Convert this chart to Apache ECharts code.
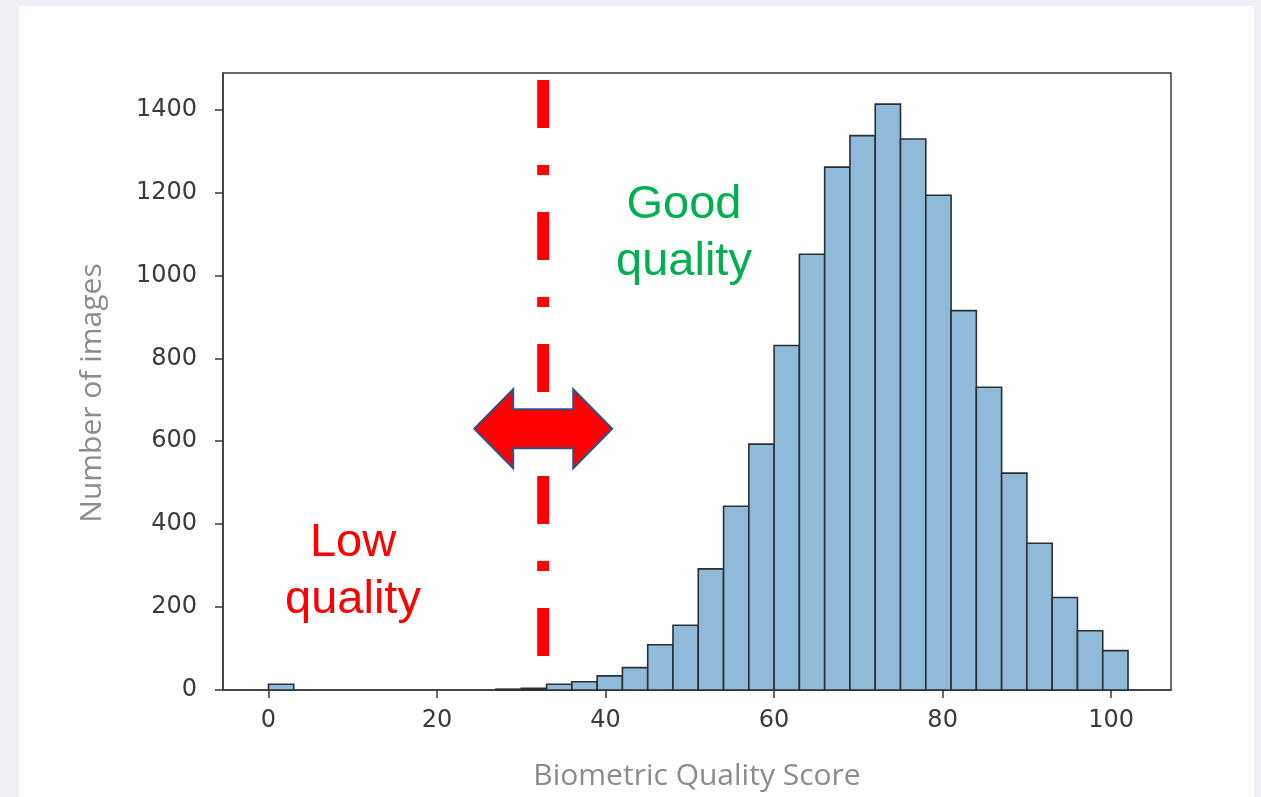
<!DOCTYPE html>
<html>
<head>
<meta charset="utf-8">
<script src="https://cdn.jsdelivr.net/npm/echarts@6/dist/echarts.min.js"></script>
<style>
  html, body { margin: 0; padding: 0; background: #eef0f5; }
  #chart { width: 1261px; height: 797px; }
</style>
</head>
<body>
<div id="chart"></div>
<script>
// ---- data ----
const binEdges = [0, 3, 6, 9, 12, 15, 18, 21, 24, 27, 30, 33, 36, 39, 42, 45, 48, 51, 54, 57,
                  60, 63, 66, 69, 72, 75, 78, 81, 84, 87, 90, 93, 96, 99, 102];
const counts = [14, 0, 0, 0, 0, 0, 0, 0, 0, 2, 4, 14, 20, 34, 54, 109, 156, 292, 443, 593,
                831, 1051, 1261, 1337, 1413, 1329, 1193, 915, 730, 523, 354, 223, 143, 95];
const xTicks = [0, 20, 40, 60, 80, 100];
const yTicks = [0, 200, 400, 600, 800, 1000, 1200, 1400];
const xTitle = 'Biometric Quality Score';
const yTitle = 'Number of images';
const threshold = 32.6;          // position of the dash-dot separator
const thresholdSpan = [1471, 82]; // vertical extent of the separator (counts)
const arrowLevel = 630;           // height of the double arrow (counts)
const goodLabel = ['Good', 'quality'];
const lowLabel = ['Low', 'quality'];

const histData = counts.map((c, i) => [binEdges[i], binEdges[i + 1], c]).filter(d => d[2] > 0);

const chart = echarts.init(document.getElementById('chart'), null, { renderer: 'canvas' });

const tickFont = { fontFamily: 'DejaVu Sans', fontSize: 24, color: '#3a3a3a', formatter: v => String(v) };
const titleFont = { fontFamily: 'Open Sans', fontSize: 30, color: '#8c8c8c' };

const option = {
  animation: false,
  backgroundColor: 'transparent',
  grid: {
    left: 223, top: 73, right: 90, bottom: 107,
    show: true, backgroundColor: '#ffffff', borderColor: '#3a3a3a', borderWidth: 1.5
  },
  xAxis: {
    type: 'value', min: -5.4, max: 107.1,
    name: xTitle, nameLocation: 'middle', nameGap: 71,
    nameTextStyle: titleFont,
    axisLine: { show: true, onZero: false, lineStyle: { color: '#3a3a3a', width: 1.5 } },
    axisTick: { show: true, inside: false, length: 8, customValues: xTicks, lineStyle: { color: '#3a3a3a', width: 1.5 } },
    axisLabel: Object.assign({ customValues: xTicks, margin: 19 }, tickFont),
    splitLine: { show: false }
  },
  yAxis: {
    type: 'value', min: 0, max: 1488,
    axisLine: { show: true, onZero: false, lineStyle: { color: '#3a3a3a', width: 1.5 } },
    axisTick: { show: true, inside: false, length: 8, customValues: yTicks, lineStyle: { color: '#3a3a3a', width: 1.5 } },
    axisLabel: Object.assign({ customValues: yTicks, margin: 26 }, tickFont),
    splitLine: { show: false }
  },
  series: [
    {
      type: 'custom',
      data: histData,
      encode: { x: [0, 1], y: 2 },
      renderItem: function (params, api) {
        const p0 = api.coord([api.value(0), api.value(2)]);
        const p1 = api.coord([api.value(1), 0]);
        return {
          type: 'rect',
          shape: { x: p0[0], y: p0[1], width: p1[0] - p0[0], height: p1[1] - p0[1] },
          style: { fill: '#8fbbd9', stroke: '#2a2f36', lineWidth: 1.6 }
        };
      },
      z: 2
    },
    {
      type: 'line',
      data: [[threshold, thresholdSpan[0]], [threshold, thresholdSpan[1]]],
      symbol: 'none',
      lineStyle: { color: '#ff0000', width: 12, type: [48, 37, 10, 37], cap: 'butt' },
      z: 3
    }
  ]
};
chart.setOption(option);

const c = chart.convertToPixel({ gridIndex: 0 }, [threshold, arrowLevel]);
const cx = c[0], cy = c[1];
const L = 69, H = 39, HH = 39.5, SH = 19.5;
const arrowPts = [
  [cx - L, cy], [cx - L + H, cy - HH], [cx - L + H, cy - SH], [cx + L - H, cy - SH],
  [cx + L - H, cy - HH], [cx + L, cy], [cx + L - H, cy + HH], [cx + L - H, cy + SH],
  [cx - L + H, cy + SH], [cx - L + H, cy + HH]
];

const annFont = 'Liberation Sans';
chart.setOption({
  graphic: [
    { type: 'rect', z: -10, silent: true, shape: { x: 19, y: 6, width: 1235, height: 800 }, style: { fill: '#ffffff' } },
    { type: 'text', z: 50, x: 92, y: 393, rotation: Math.PI / 2,
      style: { text: yTitle, fill: titleFont.color, font: titleFont.fontSize + 'px ' + titleFont.fontFamily, textAlign: 'center', textVerticalAlign: 'middle' } },
    { type: 'polygon', z: 100, shape: { points: arrowPts }, style: { fill: '#ff0000', stroke: '#2f528f', lineWidth: 2 } },
    { type: 'text', z: 100, x: 684, y: 205, style: { text: goodLabel[0], fill: '#00b050', font: '47px ' + annFont, textAlign: 'center', textVerticalAlign: 'middle' } },
    { type: 'text', z: 100, x: 684, y: 262, style: { text: goodLabel[1], fill: '#00b050', font: '47px ' + annFont, textAlign: 'center', textVerticalAlign: 'middle' } },
    { type: 'text', z: 100, x: 353, y: 543, style: { text: lowLabel[0], fill: '#ff0000', font: '47px ' + annFont, textAlign: 'center', textVerticalAlign: 'middle' } },
    { type: 'text', z: 100, x: 353, y: 600, style: { text: lowLabel[1], fill: '#ff0000', font: '47px ' + annFont, textAlign: 'center', textVerticalAlign: 'middle' } }
  ]
});
</script>
</body>
</html>
